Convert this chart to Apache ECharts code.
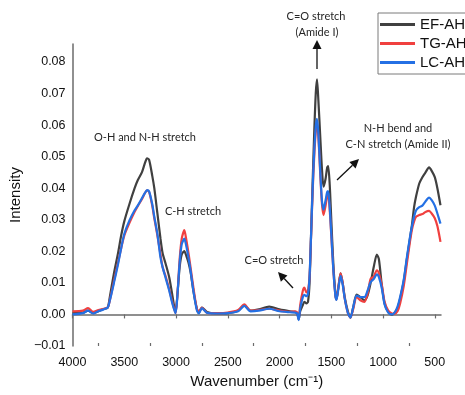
<!DOCTYPE html>
<html><head><meta charset="utf-8">
<script src="https://cdn.jsdelivr.net/npm/echarts@6/dist/echarts.min.js"></script>
<style>html,body{margin:0;padding:0;background:#fff}#c{width:465px;height:395px}</style>
</head><body><div id="c"></div>
<script>
var wavenumbers = [4000,3900,3850,3800,3750,3700,3660,3640,3600,3560,3530,3500,3450,3400,3370,3330,3300,3280,3260,3230,3210,3180,3150,3130,3100,3066,3040,3005,2985,2965,2945,2920,2900,2880,2860,2830,2800,2780,2750,2700,2600,2500,2400,2340,2280,2200,2100,2000,1900,1850,1830,1815,1800,1775,1760,1740,1725,1710,1695,1680,1665,1650,1638,1625,1606,1590,1575,1555,1540,1530,1515,1500,1480,1460,1450,1430,1410,1390,1370,1340,1315,1290,1255,1220,1180,1150,1120,1090,1060,1040,1010,985,950,915,890,860,835,800,770,740,720,700,680,650,620,590,555,530,500,475,445];
var efAH = [0.0004,0.0006,0.0012,0.0004,0.0010,0.0017,0.0022,0.0055,0.0130,0.0195,0.0250,0.0295,0.0350,0.0400,0.0425,0.0450,0.0480,0.0495,0.0490,0.0440,0.0400,0.0320,0.0240,0.0195,0.0160,0.0118,0.0070,0.0007,0.0070,0.0150,0.0190,0.0201,0.0185,0.0165,0.0135,0.0070,0.0020,0.0005,0.0022,0.0008,0.0003,0.0004,0.0012,0.0028,0.0012,0.0016,0.0025,0.0016,0.0010,0.0008,0.0005,-0.0015,0.0010,0.0030,0.0040,0.0035,0.0040,0.0100,0.0257,0.0420,0.0575,0.0700,0.0745,0.0680,0.0560,0.0460,0.0405,0.0430,0.0465,0.0470,0.0410,0.0300,0.0160,0.0065,0.0048,0.0090,0.0130,0.0100,0.0055,0.0010,-0.0010,0.0020,0.0063,0.0055,0.0045,0.0060,0.0100,0.0150,0.0190,0.0175,0.0087,0.0035,0.0008,-0.0001,0.0005,0.0020,0.0050,0.0105,0.0175,0.0240,0.0285,0.0340,0.0375,0.0415,0.0435,0.0450,0.0466,0.0455,0.0435,0.0400,0.0346];
var tgAH = [0.0010,0.0012,0.0020,0.0008,0.0014,0.0018,0.0022,0.0044,0.0105,0.0165,0.0210,0.0250,0.0290,0.0325,0.0343,0.0365,0.0385,0.0393,0.0388,0.0345,0.0305,0.0250,0.0190,0.0150,0.0120,0.0080,0.0045,0.0004,0.0070,0.0175,0.0240,0.0267,0.0235,0.0195,0.0150,0.0080,0.0020,0.0008,0.0022,0.0005,0.0004,0.0006,0.0014,0.0032,0.0012,0.0014,0.0018,0.0012,0.0008,0.0010,0.0006,-0.0013,0.0030,0.0075,0.0085,0.0070,0.0075,0.0120,0.0250,0.0390,0.0500,0.0580,0.0608,0.0565,0.0440,0.0350,0.0315,0.0345,0.0375,0.0378,0.0330,0.0250,0.0140,0.0060,0.0048,0.0090,0.0130,0.0100,0.0050,0.0005,-0.0010,0.0015,0.0055,0.0045,0.0040,0.0065,0.0113,0.0120,0.0140,0.0130,0.0090,0.0040,0.0012,0.0003,0.0002,0.0010,0.0035,0.0090,0.0160,0.0230,0.0270,0.0295,0.0310,0.0315,0.0318,0.0325,0.0328,0.0320,0.0305,0.0280,0.0230];
var lcAH = [0.0000,0.0004,0.0012,0.0003,0.0010,0.0016,0.0022,0.0044,0.0100,0.0160,0.0210,0.0255,0.0298,0.0330,0.0345,0.0368,0.0385,0.0394,0.0390,0.0350,0.0310,0.0255,0.0180,0.0150,0.0115,0.0076,0.0040,0.0004,0.0068,0.0165,0.0222,0.0240,0.0215,0.0180,0.0140,0.0070,0.0015,0.0003,0.0020,0.0005,0.0003,0.0004,0.0010,0.0027,0.0010,0.0012,0.0018,0.0010,0.0007,0.0006,0.0003,-0.0018,0.0020,0.0055,0.0062,0.0058,0.0065,0.0120,0.0255,0.0400,0.0515,0.0595,0.0620,0.0575,0.0450,0.0360,0.0332,0.0362,0.0388,0.0391,0.0340,0.0255,0.0140,0.0058,0.0046,0.0085,0.0122,0.0095,0.0050,0.0005,-0.0010,0.0020,0.0060,0.0055,0.0055,0.0075,0.0103,0.0112,0.0127,0.0118,0.0080,0.0032,0.0006,0.0000,0.0005,0.0025,0.0055,0.0110,0.0180,0.0245,0.0280,0.0310,0.0330,0.0340,0.0345,0.0358,0.0370,0.0362,0.0345,0.0320,0.0288];
var seriesNames = ['EF-AH','TG-AH','LC-AH'];
var xMajorTicks = [4000,3500,3000,2500,2000,1500,1000,500];
var xMinorTicks = [3750,3250,2750,2250,1750,1250,750];
var yTicks = [-0.01,0,0.01,0.02,0.03,0.04,0.05,0.06,0.07,0.08];

function pairs(v){ return wavenumbers.map(function(w,i){ return [w, v[i]]; }); }
function arrow(tx,ty,px,py){
  var dx=px-tx, dy=py-ty, L=Math.sqrt(dx*dx+dy*dy); dx/=L; dy/=L;
  var hl=9, hw=4.5, bx=px-hl*dx, by=py-hl*dy;
  return [
    {type:'line', shape:{x1:tx,y1:ty,x2:bx,y2:by}, style:{stroke:'#111',lineWidth:1.3}},
    {type:'polygon', shape:{points:[[px,py],[bx-hw*dy,by+hw*dx],[bx+hw*dy,by-hw*dx]]}, style:{fill:'#111'}}
  ];
}
function label(x,y,t){
  return {type:'text', x:x, y:y, style:{text:t, fill:'#262626', font:'11px Lato', align:'center', verticalAlign:'middle'}};
}
var graphics = [
  label(145,137,'O-H and N-H stretch'),
  label(193,211,'C-H stretch'),
  label(274,260,'C=O stretch'),
  label(316,16,'C=O stretch'),
  label(317,32,'(Amide I)'),
  label(398,128,'N-H bend and'),
  label(398,144,'C-N stretch (Amide II)')
].concat(arrow(317,69,317,40)).concat(arrow(337,180,359,159)).concat(arrow(293,288,278,272));

var colors = ['#404040','#f0403f','#2470e4'];
var chart = echarts.init(document.getElementById('c'));
var axisColor = '#6b6b6b';
chart.setOption({
  animation:false,
  color: colors,
  grid:{left:69, right:24, top:44, bottom:49},
  legend:{
    data: seriesNames, orient:'vertical', left:378, top:13,
    icon:'rect', itemWidth:35, itemHeight:3, itemGap:4,
    padding:[4,6,4,2], borderColor:'#7a7a7a', borderWidth:1,
    textStyle:{fontFamily:'Liberation Sans', fontSize:15, color:'#111', lineHeight:15}
  },
  xAxis:[{
    type:'value', inverse:true, min:440, max:4000,
    name:'Wavenumber (cm\u207B\u00B9)', nameLocation:'middle', nameGap:27,
    nameTextStyle:{fontFamily:'Liberation Sans', fontSize:15, color:'#111'},
    axisLine:{lineStyle:{color:axisColor, width:1.5}},
    axisTick:{show:true, length:4, customValues:xMajorTicks, lineStyle:{color:axisColor,width:1.2}},
    axisLabel:{customValues:xMajorTicks, fontFamily:'Liberation Sans', fontSize:12.5, color:'#111', margin:10,
      formatter:function(v){ return String(Math.round(v)); }},
    splitLine:{show:false}
  },{
    type:'value', inverse:true, min:440, max:4000, position:'bottom',
    axisLine:{show:false},
    axisTick:{show:true, inside:true, length:3, customValues:xMinorTicks, lineStyle:{color:axisColor,width:1.2}},
    axisLabel:{show:false}, splitLine:{show:false}
  }],
  yAxis:{
    type:'value', min:-0.01, max:0.0857,
    name:'Intensity', nameLocation:'middle', nameGap:39,
    nameTextStyle:{fontFamily:'Liberation Sans', fontSize:15, color:'#111'},
    axisLine:{show:true, lineStyle:{color:axisColor, width:1.5}},
    axisTick:{show:false},
    axisLabel:{customValues:yTicks, fontFamily:'Liberation Sans', fontSize:12.5, color:'#111', margin:7,
      formatter:function(v){ var s=Math.abs(v).toFixed(2); return v<-1e-9 ? '\u2212'+s : s; }},
    splitLine:{show:false}
  },
  graphic: graphics,
  series:[efAH,tgAH,lcAH].map(function(v,i){
    return {name:seriesNames[i], type:'line', data:pairs(v), showSymbol:false, symbol:'none', smooth:0.25,
      lineStyle:{width:2.2, color:colors[i]}, itemStyle:{color:colors[i]}};
  })
});
</script></body></html>
